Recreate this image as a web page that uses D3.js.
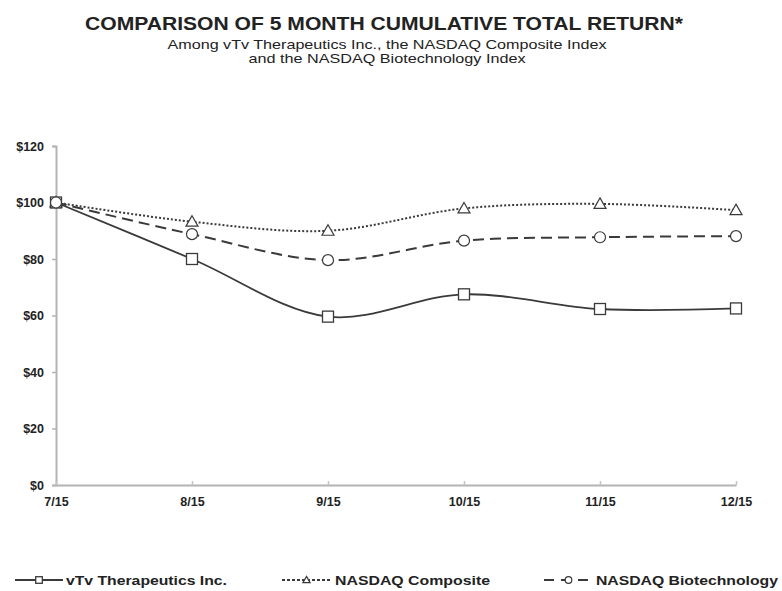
<!DOCTYPE html>
<html>
<head>
<meta charset="utf-8">
<script src="https://cdn.jsdelivr.net/npm/d3@7"></script>
<style>
  body { margin: 0; background: #fff; }
  text { font-family: "Liberation Sans", Arial, sans-serif; fill: #222; }
</style>
</head>
<body>
<div id="chart"></div>
<script>
var months = ["7/15", "8/15", "9/15", "10/15", "11/15", "12/15"];
var vtv = [100, 80, 59.6, 67.5, 62.3, 62.5];
var composite = [100, 93.2, 90.0, 97.9, 99.5, 97.3];
var biotech = [100, 88.8, 79.6, 86.5, 87.7, 88.1];
var yTicks = [0, 20, 40, 60, 80, 100, 120];
var seriesNames = ["vTv Therapeutics Inc.", "NASDAQ Composite", "NASDAQ Biotechnology"];

var width = 782, height = 591;
var lineColor = "#3a3a3a";

var svg = d3.select("#chart")
            .append("svg")
            .attr("width", width)
            .attr("height", height);

/***** Titles ******/
svg.append("text")
   .attr("x", 384).attr("y", 30)
   .attr("text-anchor", "middle")
   .attr("textLength", 598).attr("lengthAdjust", "spacingAndGlyphs")
   .style("font-size", "18px").style("font-weight", "bold")
   .text("COMPARISON OF 5 MONTH CUMULATIVE TOTAL RETURN*");

svg.append("text")
   .attr("x", 387).attr("y", 49)
   .attr("text-anchor", "middle")
   .attr("textLength", 439).attr("lengthAdjust", "spacingAndGlyphs")
   .style("font-size", "13px")
   .text("Among vTv Therapeutics Inc., the NASDAQ Composite Index");

svg.append("text")
   .attr("x", 387).attr("y", 63)
   .attr("text-anchor", "middle")
   .attr("textLength", 277).attr("lengthAdjust", "spacingAndGlyphs")
   .style("font-size", "13px")
   .text("and the NASDAQ Biotechnology Index");

/***** Scales ******/
var x = d3.scalePoint().domain(months).range([56, 736]);
var y = d3.scaleLinear().domain([0, 120]).range([485, 146]);

/***** Axes ******/
var gy = svg.append("g")
   .attr("transform", "translate(56,0)")
   .call(d3.axisLeft(y).tickValues(yTicks).tickSize(4).tickPadding(8)
           .tickFormat(function(d) { return "$" + d; }));
gy.select(".domain").attr("stroke", "#b3b3b3").attr("stroke-width", 2);
gy.selectAll(".tick line").attr("stroke", "#b3b3b3").attr("stroke-width", 1.5);
gy.selectAll(".tick text").style("font-size", "12.5px").style("font-weight", "bold").attr("fill", "#222");

var gx = svg.append("g")
   .attr("transform", "translate(0,485)")
   .call(d3.axisBottom(x).tickSize(-4).tickPadding(12).tickSizeOuter(0));
gx.select(".domain").attr("stroke", "#b3b3b3").attr("stroke-width", 2);
gx.selectAll(".tick line").attr("stroke", "#c4c4c4").attr("stroke-width", 1.5);
gx.selectAll(".tick text").style("font-size", "12.5px").style("font-weight", "bold").attr("fill", "#222");

/***** Lines ******/
var line = d3.line()
   .x(function(d, i) { return x(months[i]); })
   .y(function(d) { return y(d); })
   .curve(d3.curveCatmullRom.alpha(0.5));

var series = [
  { name: seriesNames[0], values: vtv, dash: null, legendDash: null, w: 1.8, marker: "square" },
  { name: seriesNames[1], values: composite, dash: "2,2", legendDash: "3,2", w: 2, marker: "triangle" },
  { name: seriesNames[2], values: biotech, dash: "11,6", legendDash: "10,7", w: 2, marker: "circle" }
];

function drawMarker(g, type, cx, cy, s) {
  if (type == "square") {
    g.append("rect").attr("x", cx - 5.5 * s).attr("y", cy - 5.5 * s)
     .attr("width", 11 * s).attr("height", 11 * s)
     .attr("fill", "#fff").attr("stroke", lineColor).attr("stroke-width", 1.3);
  } else if (type == "triangle") {
    g.append("path")
     .attr("d", "M" + cx + "," + (cy - 6 * s) + "L" + (cx + 6 * s) + "," + (cy + 4.5 * s) + "L" + (cx - 6 * s) + "," + (cy + 4.5 * s) + "Z")
     .attr("fill", "#fff").attr("stroke", lineColor).attr("stroke-width", 1.2);
  } else {
    g.append("circle").attr("cx", cx).attr("cy", cy).attr("r", 5.5 * s)
     .attr("fill", "#fff").attr("stroke", lineColor).attr("stroke-width", 1.2);
  }
}

series.forEach(function(s) {
  svg.append("path")
     .attr("d", line(s.values))
     .attr("fill", "none")
     .attr("stroke", lineColor)
     .attr("stroke-width", s.w)
     .attr("stroke-dasharray", s.dash);
});

series.forEach(function(s) {
  var g = svg.append("g");
  s.values.forEach(function(v, i) { drawMarker(g, s.marker, x(months[i]), y(v), 1); });
});

/***** Legend ******/
var legendY = 584;
var legendPos = [
  { x1: 15, x2: 63, tx: 66, tl: 161 },
  { x1: 282, x2: 331, tx: 335, tl: 155 },
  { x1: 544, x2: 593, tx: 596, tl: 182 }
];

series.forEach(function(s, i) {
  var p = legendPos[i];
  var g = svg.append("g");
  g.append("line")
   .attr("x1", p.x1).attr("x2", p.x2)
   .attr("y1", legendY - 4).attr("y2", legendY - 4)
   .attr("stroke", lineColor).attr("stroke-width", s.w)
   .attr("stroke-dasharray", s.legendDash);
  drawMarker(g, s.marker, (p.x1 + p.x2) / 2, legendY - 4, 0.6);
  g.append("text")
   .attr("x", p.tx).attr("y", legendY + 1)
   .attr("textLength", p.tl).attr("lengthAdjust", "spacingAndGlyphs")
   .style("font-size", "13px").style("font-weight", "bold")
   .text(s.name);
});
</script>
</body>
</html>
